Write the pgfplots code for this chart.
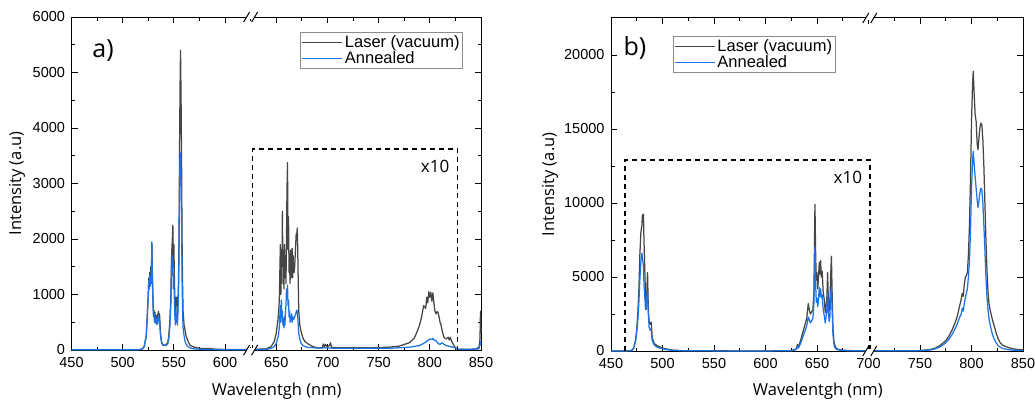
\documentclass[border=0pt]{standalone}
\usepackage{fontspec}
\setmainfont{Liberation Sans}
\newfontfamily\labfont{Open Sans}
\usepackage{pgfplots}
\pgfplotsset{compat=1.18}
\definecolor{laser}{RGB}{70,70,70}
\definecolor{ann}{RGB}{28,115,228}
\definecolor{legbord}{RGB}{140,140,140}

\newcommand\axbreak[2]{%
  \fill[white] ([xshift=-4pt,yshift=-2pt]axis description cs:#1,#2) rectangle ([xshift=4pt,yshift=2pt]axis description cs:#1,#2);
  \draw[black, line width=1pt] ([xshift=-7pt,yshift=-5pt]axis description cs:#1,#2) -- ([xshift=-1pt,yshift=5pt]axis description cs:#1,#2);
  \draw[black, line width=1pt] ([xshift=1pt,yshift=-5pt]axis description cs:#1,#2) -- ([xshift=7pt,yshift=5pt]axis description cs:#1,#2);
}

\pgfplotsset{
  common/.style={
    scale only axis,
    anchor=south west,
    xmin=450, xmax=850,
    xtick={450,500,...,850},
    minor x tick num=1,
    minor y tick num=1,
    scaled y ticks=false,
    tick align=inside,
    major tick length=6pt,
    minor tick length=3.5pt,
    axis line style={line width=1pt},
    every tick/.style={black, line width=0.9pt},
    /pgf/number format/assume math mode=true,
    /pgf/number format/1000 sep={},
    ticklabel style={font=\fontsize{14.5}{16}\selectfont},
    xticklabel style={yshift=-4pt},
    yticklabel style={xshift=-3pt},
    label style={font=\labfont\fontsize{16.5}{18}\selectfont},
    xlabel={Wavelentgh (nm)},
    ylabel={Intensity (a.u)},
    ymin=0,
    clip=false,
    legend cell align=left,
    legend style={draw=legbord, line width=0.9pt, font=\fontsize{16.5}{18}\selectfont,
      inner xsep=1pt, inner ysep=1pt, row sep=-1pt},
    legend image code/.code={\draw[##1, line width=1.2pt] (0pt,0pt) -- (40pt,0pt);},
  },
  laserline/.style={color=laser, line width=1.25pt, line join=round},
  annline/.style={color=ann, line width=1.25pt, line join=round},
}

\begin{document}
\begin{tikzpicture}
\path[use as bounding box] (0,0) rectangle (1035pt,402pt);

%% ---------------- panel a ----------------
\begin{axis}[common,
  at={(71.5pt,52pt)}, width=409.5pt, height=333pt,
  ymax=6000, ytick={0,1000,...,6000},
  xlabel style={at={(axis description cs:0.501,-0.125)}, anchor=center},
  ylabel style={at={(axis description cs:-0.133,0.5)}, anchor=center},
  legend style={at={(axis description cs:0.956,0.955)}, anchor=north east},
]
\addplot[laserline] coordinates {
(450,5)(500,5)(515,5)(519,15)(521,60)(523,250)(524,600)(525,1000)(525.5,1300)(526,1150)(526.5,1400)(527,1200)(527.5,1500)(528,1350)(528.5,1900)(529,1400)(529.5,1000)(530,700)(530.5,720)(531,600)(531.5,680)(532,550)(533,620)(533.5,500)(534,600)(535,700)(535.5,550)(536,650)(536.5,450)(537,300)(538,150)(539,100)(540,90)(542,90)(544,130)(545,250)(546,500)(547,900)(547.5,1500)(548,1800)(548.5,2000)(549,2250)(549.5,1500)(550,1900)(550.5,1300)(551,900)(551.5,700)(552,950)(552.5,800)(553,950)(553.5,600)(554,900)(554.5,1200)(555,2000)(555.5,3500)(556,4700)(556.5,5400)(557,4600)(557.5,3500)(558,2000)(558.5,1200)(559,700)(560,450)(561,350)(562,250)(564,150)(566,80)(570,50)(575,30)(585,25)(590,15)(600,10)(620,8)(640,20)(645,60)(648,150)(650,300)(652,600)(653,900)(654,1900)(654.5,1000)(655,1600)(655.5,1200)(656,2500)(656.5,1500)(657,1800)(657.5,1100)(658,1900)(658.5,1300)(659,1700)(659.5,1200)(660,2000)(660.5,2900)(661,3380)(661.5,1800)(662,2400)(662.5,1400)(663,1600)(663.5,1200)(664,1800)(664.5,1300)(665,1500)(665.5,1830)(666,1300)(666.5,1700)(667,1400)(667.5,1400)(668,1500)(668.5,1700)(669,1900)(669.5,2100)(670,2000)(670.5,2200)(671,1800)(671.5,1200)(672,700)(673,450)(674,350)(676,220)(678,150)(682,100)(686,60)(690,40)(695,40)(696,110)(697,60)(698,100)(700,60)(702,80)(703,130)(704,50)(710,40)(720,40)(740,40)(760,50)(770,70)(780,130)(785,220)(788,350)(790,450)(792,600)(794,800)(796,750)(797,950)(798,850)(799,1050)(800,950)(801,1040)(802,880)(803,1030)(804,850)(805,700)(806,650)(807,690)(808,680)(809,600)(810,500)(811,450)(812,350)(814,220)(816,200)(818,230)(819,180)(820,230)(821,170)(823,100)(825,40)(827,15)(835,10)(845,20)(848,50)(849,200)(849.5,700)(850,300)
};
\addlegendentry{Laser (vacuum)}
\addplot[annline] coordinates {
(450,5)(515,5)(519,15)(521,60)(523,250)(524,600)(525,1000)(525.5,1250)(526,1100)(526.5,1350)(527,1150)(527.5,1300)(528,1200)(528.5,1950)(529,1300)(529.5,900)(530,600)(530.5,650)(531,500)(531.5,600)(532,480)(533,560)(533.5,450)(534,550)(535,620)(535.5,480)(536,560)(536.5,380)(537,250)(538,130)(539,90)(540,80)(542,80)(544,110)(545,200)(546,400)(547,800)(547.5,1300)(548,1500)(548.5,1700)(549,1600)(549.5,1100)(550,1300)(550.5,900)(551,600)(551.5,450)(552,700)(552.5,500)(553,650)(553.5,450)(554,700)(554.5,1000)(555,1700)(555.5,2800)(556,3400)(556.5,3550)(557,3200)(557.5,2400)(558,1300)(558.5,700)(559,400)(560,250)(561,150)(562,100)(564,60)(566,35)(570,20)(580,10)(600,5)(620,5)(640,10)(645,30)(648,60)(650,120)(652,250)(653,400)(654,800)(654.5,500)(655,900)(655.5,600)(656,700)(656.5,450)(657,500)(657.5,400)(658,600)(658.5,450)(659,700)(659.5,800)(660,1100)(660.5,1000)(661,1170)(661.5,800)(662,900)(662.5,600)(663,700)(663.5,500)(664,600)(664.5,550)(665,650)(665.5,500)(666,600)(667,550)(668,600)(669,650)(670,720)(670.5,700)(671,600)(671.5,450)(672,300)(673,200)(674,130)(676,80)(680,50)(690,35)(700,40)(705,30)(720,30)(740,30)(760,30)(780,50)(790,80)(795,130)(798,170)(800,200)(802,190)(803,210)(804,180)(806,170)(808,120)(810,100)(812,130)(814,100)(816,80)(820,60)(825,40)(827,15)(840,10)(848,20)(849,80)(849.5,150)(850,100)
};
\addlegendentry{Annealed}
\draw[black, line width=1.2pt, dash pattern=on 5pt off 4pt] (axis cs:627,0) -- (axis cs:627,3620) -- (axis cs:827,3620) -- (axis cs:827,0);
\node[anchor=center, font=\labfont\fontsize{17}{19}\selectfont] at (axis description cs:0.888,0.55) {x10};
\node[anchor=center, font=\labfont\fontsize{25}{28}\selectfont] at (axis description cs:0.077,0.90) {a)};
\axbreak{0.4375}{0}
\axbreak{0.4375}{1}
\end{axis}

%% ---------------- panel b ----------------
\begin{axis}[common,
  at={(611pt,51pt)}, width=412pt, height=333pt,
  ymax=22500, ytick={0,5000,...,20000},
  xlabel style={at={(axis description cs:0.502,-0.122)}, anchor=center},
  ylabel style={at={(axis description cs:-0.148,0.5)}, anchor=center},
  legend style={at={(axis description cs:0.150,0.946)}, anchor=north west},
]
\addplot[laserline] coordinates {
(450,0)(465,5)(470,30)(472,200)(474,800)(475,1500)(476,2500)(477,4000)(478,6500)(479,8000)(480,8500)(480.5,9200)(481,8800)(481.5,9250)(482,7500)(483,5000)(483.5,3500)(484,2800)(484.5,3200)(485,4500)(485.5,5300)(486,3500)(486.5,2500)(487,2000)(488,1800)(489,1950)(489.5,1500)(490,900)(492,500)(495,350)(500,200)(505,120)(510,60)(520,20)(550,10)(600,5)(625,20)(630,150)(631,450)(632,250)(634,700)(636,1200)(638,1700)(640,2200)(641.5,3200)(642.5,2800)(643.5,2500)(644.5,2600)(646,2800)(647,4000)(648,9900)(648.7,6500)(649.3,4800)(650,5300)(650.7,4200)(651.5,5000)(652.2,6000)(652.8,5200)(653.5,6100)(654.2,5000)(655,5400)(656,4000)(657,3500)(658,2600)(658.7,3000)(659.5,3500)(660.3,5300)(661,3500)(661.8,2700)(662.5,3000)(663.2,5000)(664,6400)(664.8,3500)(665.5,1500)(666.5,600)(668,250)(670,120)(675,60)(680,30)(700,10)(740,10)(750,30)(760,100)(765,200)(770,400)(775,700)(778,1000)(781,1400)(784,1900)(786,2300)(788,2900)(790,3500)(791,3900)(792,3700)(793,4500)(794,5000)(795,5100)(796,5300)(797,6500)(798,8500)(799,11500)(800,15500)(801,18000)(801.7,18900)(802.5,17500)(803.5,16000)(804.5,15500)(805.5,14000)(806.3,13600)(807,14200)(808,15000)(809,15400)(810,15300)(811,14300)(812,12500)(813,10000)(814,7500)(815,5500)(816,4000)(817,3200)(818,2800)(819,2500)(820,2200)(822,1700)(824,1200)(826,800)(828,550)(830,400)(835,250)(840,150)(845,100)(850,80)
};
\addlegendentry{Laser (vacuum)}
\addplot[annline] coordinates {
(450,0)(465,5)(470,30)(472,180)(474,700)(475,1300)(476,2000)(477,3200)(478,4800)(479,6000)(479.5,6400)(480,6600)(480.5,6300)(481,6000)(481.5,5800)(482,4500)(483,3500)(483.5,2800)(484,2900)(485,3900)(485.5,4000)(486,2800)(486.5,2200)(487,1600)(488,1400)(489,1500)(489.5,1100)(490,700)(492,400)(495,250)(500,150)(505,80)(510,40)(520,15)(550,8)(600,5)(625,15)(630,100)(631,300)(632,200)(634,500)(636,900)(638,1300)(640,1700)(641.5,2300)(642.5,2100)(643.5,1900)(644.5,2000)(646,2200)(647,3200)(648,7050)(648.7,4500)(649.3,3300)(650,3600)(650.7,3000)(651.5,3500)(652.2,4300)(652.8,3700)(653.5,4200)(654.2,3600)(655,3800)(656,2800)(657,2400)(658,1900)(658.7,2300)(659.5,2700)(660.3,4000)(661,2600)(661.8,2000)(662.5,2300)(663.2,3800)(664,4300)(664.8,2500)(665.5,1100)(666.5,400)(668,150)(670,80)(675,40)(680,20)(700,10)(740,10)(750,20)(760,70)(765,150)(770,300)(775,550)(778,800)(781,1100)(784,1500)(786,1800)(788,2200)(790,2500)(791,2900)(792,2700)(793,3200)(794,3600)(795,3900)(796,4200)(797,5000)(798,6100)(799,8000)(800,11000)(801,12800)(801.7,13500)(802.5,12700)(803.5,11800)(804.5,11000)(805.5,10200)(806.3,9700)(807,10000)(808,10600)(809,11000)(810,10900)(811,10000)(812,8500)(813,6800)(814,5000)(815,3700)(816,2800)(817,2200)(818,1800)(819,1500)(820,1200)(822,800)(824,550)(826,350)(828,250)(830,180)(835,100)(840,60)(845,40)(850,30)
};
\addlegendentry{Annealed}
\draw[black, line width=1.2pt, dash pattern=on 5pt off 4pt] (axis cs:463.6,0) -- (axis cs:463.6,12900) -- (axis cs:701.5,12900) -- (axis cs:701.5,0);
\node[anchor=center, font=\labfont\fontsize{17}{19}\selectfont] at (axis description cs:0.575,0.52) {x10};
\node[anchor=center, font=\labfont\fontsize{25}{28}\selectfont] at (axis description cs:0.058,0.91) {b)};
\axbreak{0.628}{0}
\axbreak{0.628}{1}
\end{axis}
\end{tikzpicture}
\end{document}
